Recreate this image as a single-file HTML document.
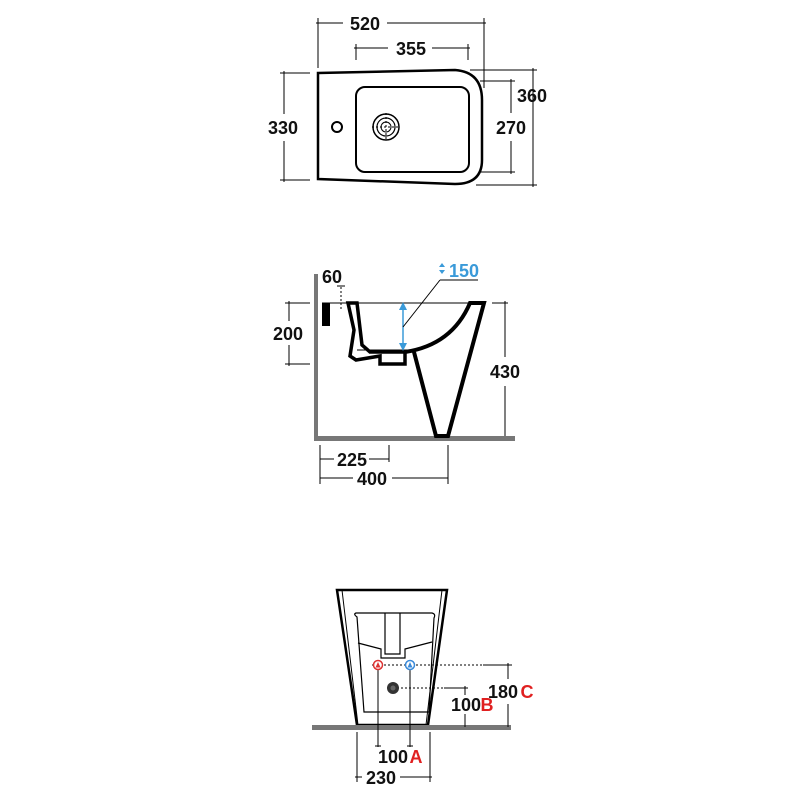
<!DOCTYPE html>
<html><head><meta charset="utf-8"><style>
html,body{margin:0;padding:0;background:#fff;}
svg{display:block}
text{font-family:"Liberation Sans",sans-serif;font-weight:bold;}
</style></head><body>
<svg width="800" height="800" viewBox="0 0 800 800" xmlns="http://www.w3.org/2000/svg">
<g fill="none" stroke="#000" stroke-width="1">
<path d="M318,73 L455,70 Q482,72 482,100 L482,160 Q482,184 455,184 L318,179 Z" stroke-width="2.5"/>
<rect x="356" y="87" width="113" height="85" rx="9" stroke-width="2"/>
<circle cx="337" cy="127" r="5" stroke-width="2"/>
<circle cx="386" cy="127" r="13" stroke-width="1.5"/>
<circle cx="386" cy="127" r="9" stroke-width="1.2"/>
<circle cx="386" cy="127" r="5" stroke-width="1"/>
<line x1="372" y1="127" x2="400" y2="127" stroke-dasharray="2,2"/>
<line x1="386" y1="113" x2="386" y2="141" stroke-dasharray="2,2"/>
<line x1="318" y1="18" x2="318" y2="68"/><line x1="484" y1="18" x2="484" y2="88"/>
<line x1="316" y1="23" x2="343" y2="23"/><line x1="387" y1="23" x2="486" y2="23"/>
<line x1="356" y1="44" x2="356" y2="60"/><line x1="468" y1="44" x2="468" y2="60"/>
<line x1="354" y1="48" x2="388" y2="48"/><line x1="432" y1="48" x2="470" y2="48"/>
<line x1="280" y1="73" x2="310" y2="73"/><line x1="280" y1="180" x2="310" y2="180"/>
<line x1="284" y1="71" x2="284" y2="114"/><line x1="284" y1="141" x2="284" y2="182"/>
<line x1="470" y1="70" x2="537" y2="70"/><line x1="476" y1="185" x2="537" y2="185"/>
<line x1="533" y1="68" x2="533" y2="187"/>
<line x1="480" y1="81" x2="515" y2="81"/><line x1="480" y1="172" x2="515" y2="172"/>
<line x1="511" y1="79" x2="511" y2="113"/><line x1="511" y1="141" x2="511" y2="174"/>

<rect x="314" y="274" width="4" height="166" fill="#777" stroke="none"/>
<rect x="314" y="436" width="201" height="5" fill="#777" stroke="none"/>
<line x1="322" y1="303" x2="485" y2="303" stroke-width="1"/>
<rect x="322" y="303" width="8" height="23" fill="#000" stroke="none"/>
<line x1="341" y1="287" x2="341" y2="310" stroke-dasharray="2,2"/>
<line x1="337" y1="286" x2="345" y2="286"/>
<path d="M348,303 L357,303 L362,345 L370,352 L405,352 L405,364 L380,364 L380,356 L356,360 L350,356 L354,330 Z" fill="none" stroke-width="3.5"/>
<path d="M405,352 Q452,345 470,303 L484,303 L448,436 L436,436 L414,352" fill="none" stroke-width="4"/>
<line x1="357" y1="350" x2="410" y2="350" stroke-width="1"/>
<line x1="403" y1="304" x2="403" y2="349" stroke="#3a9ad9" stroke-width="1.5"/>
<path d="M399,310 L403,302 L407,310 Z M399,343 L403,351 L407,343 Z" fill="#3a9ad9" stroke="none"/>
<line x1="403" y1="327" x2="440" y2="280"/><line x1="440" y1="280" x2="478" y2="280"/>
<path d="M439,267 l3,-4 l3,4 Z M439,270 l3,4 l3,-4 Z" fill="#3a9ad9" stroke="none"/>
<line x1="285" y1="303" x2="310" y2="303"/><line x1="285" y1="364" x2="310" y2="364"/>
<line x1="289" y1="301" x2="289" y2="321"/><line x1="289" y1="345" x2="289" y2="366"/>
<line x1="492" y1="303" x2="508" y2="303"/>
<line x1="505" y1="301" x2="505" y2="357"/><line x1="505" y1="386" x2="505" y2="436"/>
<line x1="320" y1="445" x2="320" y2="484"/><line x1="389" y1="445" x2="389" y2="462"/><line x1="448" y1="445" x2="448" y2="484"/>
<line x1="320" y1="459" x2="334" y2="459"/><line x1="369" y1="459" x2="389" y2="459"/>
<line x1="320" y1="478" x2="353" y2="478"/><line x1="392" y1="478" x2="448" y2="478"/>

<path d="M337,590 L447,590 L428,725 L357,725 Z" stroke-width="2.5"/>
<path d="M342,590 L358,725 M442,590 L426,725" stroke-width="1"/>
<path d="M357,617 Q353,614 356,613 L432,613 Q436,614 434,618 L429,712 L364,712 Z" stroke-width="1.2"/>
<path d="M385,613 L385,654 L400,654 L400,613" stroke-width="1.2"/>
<path d="M358,643 L381,649 L381,658 L405,658 L405,649 L432,642" stroke-width="1.2"/>
<rect x="312" y="725" width="199" height="5" fill="#777" stroke="none"/>
<line x1="372" y1="665" x2="483" y2="665" stroke-dasharray="2,2"/>
<line x1="483" y1="665" x2="512" y2="665"/>
<line x1="393" y1="688" x2="444" y2="688" stroke-dasharray="2,2"/>
<line x1="444" y1="688" x2="468" y2="688"/>
<line x1="508" y1="663" x2="508" y2="679"/><line x1="508" y1="704" x2="508" y2="727"/>
<line x1="465" y1="686" x2="465" y2="695"/><line x1="465" y1="714" x2="465" y2="727"/>
<line x1="378" y1="669" x2="378" y2="747"/><line x1="410" y1="669" x2="410" y2="747"/>
<line x1="375" y1="746" x2="381" y2="746"/><line x1="407" y1="746" x2="413" y2="746"/>
<line x1="357" y1="732" x2="357" y2="782"/><line x1="430" y1="732" x2="430" y2="782"/>
<line x1="355" y1="777" x2="362" y2="777"/><line x1="400" y1="777" x2="432" y2="777"/>
</g>
<circle cx="378" cy="665" r="4.5" fill="#fff" stroke="#d33" stroke-width="1.5"/>
<path d="M375.5,667.5 L378,662 L380.5,667.5Z" fill="#d33"/>
<circle cx="410" cy="665" r="4.5" fill="#fff" stroke="#3a8ad9" stroke-width="1.5"/>
<path d="M407.5,667.5 L410,662 L412.5,667.5Z" fill="#3a8ad9"/>
<circle cx="393" cy="688" r="6" fill="#333"/>
<circle cx="393" cy="688" r="2.5" fill="#666"/>

<g font-size="18" fill="#111" text-anchor="middle">
<text x="365" y="30">520</text>
<text x="411" y="55">355</text>
<text x="283" y="134">330</text>
<text x="532" y="102">360</text>
<text x="511" y="134">270</text>
<text x="332" y="283">60</text>
<text x="288" y="340">200</text>
<text x="505" y="378">430</text>
<text x="352" y="466">225</text>
<text x="372" y="485">400</text>
<text x="381" y="784">230</text>
<text x="393" y="763">100</text>
<text x="466" y="711">100</text>
<text x="503" y="698">180</text>
<text x="464" y="277" fill="#3a9ad9">150</text>
<text x="416" y="763" fill="#e02020">A</text>
<text x="487" y="711" fill="#e02020">B</text>
<text x="527" y="698" fill="#e02020">C</text>
</g>
</svg>
</body></html>
